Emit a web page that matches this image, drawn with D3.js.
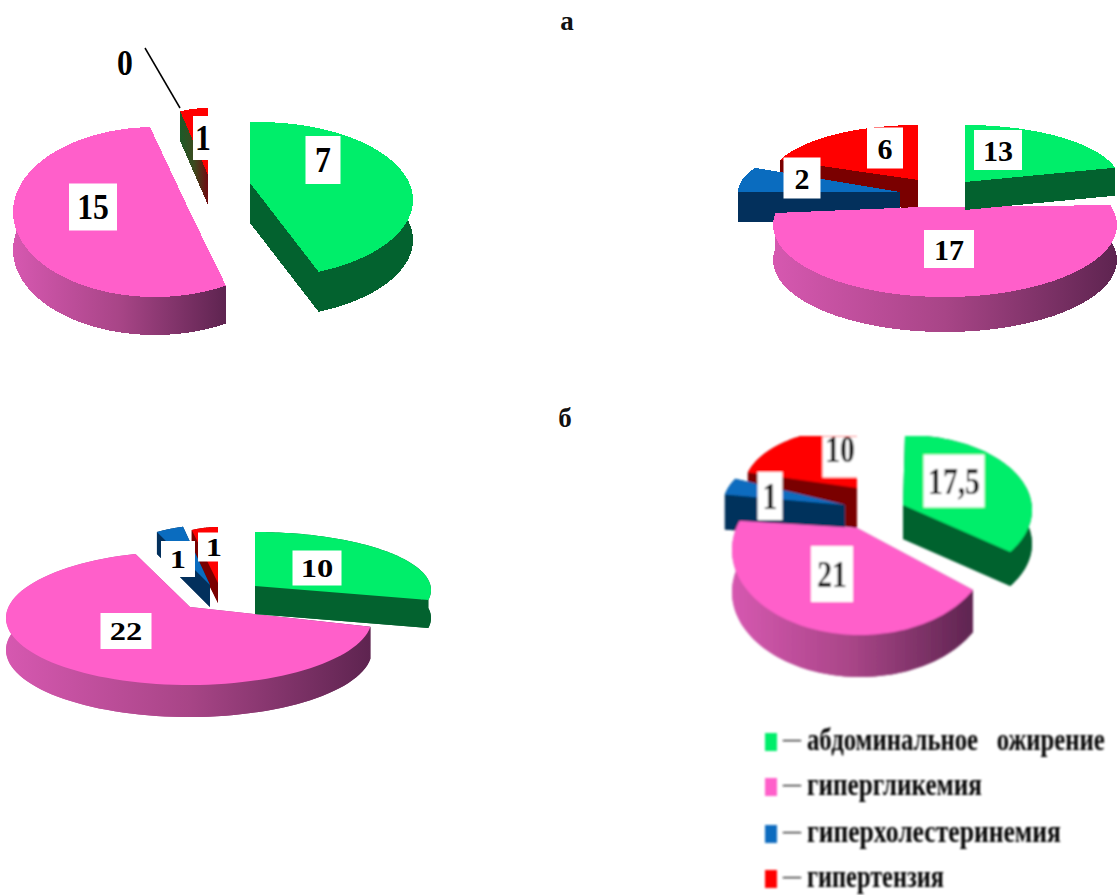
<!DOCTYPE html>
<html lang="ru">
<head>
<meta charset="utf-8">
<title>Компоненты метаболического синдрома</title>
<script src="https://cdn.jsdelivr.net/npm/d3@7/dist/d3.min.js"></script>
<style>
  html, body { margin: 0; padding: 0; background: #fff; }
  svg { display: block; }
  text { font-family: "Liberation Serif", serif; }
</style>
</head>
<body>
<svg id="chart" width="1118" height="895"></svg>
<script>
// Categories and values of the four pies
const categories = ["абдоминальное   ожирение", "гипергликемия", "гиперхолестеринемия", "гипертензия"];
const valuesA1 = [7, 15, 0, 1];
const valuesA2 = [13, 17, 2, 6];
const valuesB1 = [10, 22, 1, 1];
const valuesB2 = [17.5, 21, 1, 10];
const panelTitles = ["а", "б"];

// Surface and side colours by category
const topColors = ["#00ee6a", "#ff5fca", "#0a6cbf", "#ff0000"];
const wallColors = [
  ["#03622f", "#03622f"],
  ["#d658b0", "#a84587", "#5e2450"],
  ["#03305c", "#03305c"],
  ["#7a0000", "#7a0000"]
];

// Projection of each exploded slice: apex, ellipse of its rim, sweep in degrees, side depth.
// Sweeps are foreshortened, so each slice carries its own value-to-angle range.
const pies = [
  {
    values: valuesA1, order: [3, 1, 0], crisp: true,
    slices: {
      0: { ax: 250, ay: 183, cx: 258, cy: 200, rx: 155, ry: 78, from: -3, to: 157, depth: 40 },
      1: { ax: 190, ay: 212, cx: 155, cy: 212, rx: 142, ry: 85, from: 150, to: 358, depth: 38 },
      3: { ax: 208, ay: 175, cx: 208, cy: 175, rx: 90, ry: 67, from: -18, to: 0, depth: 30,
           wall: ["#1c5a28", "#3c4a1e", "#700a10"] }
    },
    font: 36, sx: 0.88,
    labels: {
      0: { x: 323, y: 160, w: 35, h: 48 },
      1: { x: 93, y: 207, w: 48, h: 47 },
      2: { x: 125, y: 63, w: 0, h: 0 },
      3: { x: 204, y: 138, w: 22, h: 44, tx: 203 }
    },
    leader: { from: 2, x1: 145, y1: 48, x2: 180, y2: 108 }
  },
  {
    values: valuesA2, order: [3, 2, 1, 0], crisp: true,
    slices: {
      0: { ax: 965, ay: 182, cx: 965, cy: 182, rx: 155, ry: 57, from: 0, to: 75.5, depth: 28 },
      1: { ax: 920, ay: 207, cx: 945, cy: 225, rx: 172, ry: 72, from: 74, to: 279.6, depth: 35 },
      2: { ax: 900, ay: 192, cx: 900, cy: 192, rx: 162, ry: 54, from: -90, to: -63.5, depth: 30 },
      3: { ax: 918, ay: 180, cx: 918, cy: 180, rx: 148, ry: 55, from: -68.7, to: 0, depth: 30 }
    },
    font: 30, sx: 1,
    labels: {
      0: { x: 998, y: 150, w: 48, h: 40 },
      1: { x: 949, y: 249, w: 50, h: 38 },
      2: { x: 802, y: 178, w: 37, h: 41 },
      3: { x: 885, y: 148, w: 36, h: 41 }
    }
  },
  {
    values: valuesB1, order: [3, 2, 1, 0], crisp: false,
    slices: {
      0: { ax: 255, ay: 586, cx: 255, cy: 590, rx: 176, ry: 58, from: 0, to: 100, depth: 28 },
      1: { ax: 190, ay: 607, cx: 189, cy: 618, rx: 183, ry: 67, from: 97.6, to: 343, depth: 32 },
      2: { ax: 210, ay: 585, cx: 210, cy: 585, rx: 113, ry: 60, from: -28, to: -13.8, depth: 22 },
      3: { ax: 218, ay: 583, cx: 218, cy: 583, rx: 81, ry: 56, from: -18.9, to: 0, depth: 20 }
    },
    font: 26, sx: 1.25,
    labels: {
      0: { x: 317, y: 568, w: 49, h: 35 },
      1: { x: 126, y: 631, w: 51, h: 36 },
      2: { x: 178, y: 559, w: 34, h: 36 },
      3: { x: 209, y: 547, w: 22, h: 29, tx: 214 }
    }
  },
  {
    values: valuesB2, order: [3, 2, 1, 0], crisp: false, soft: true, clipTop: 436,
    slices: {
      0: { ax: 903, ay: 505, cx: 905, cy: 510, rx: 127, ry: 75, from: 0, to: 124, depth: 34 },
      1: { ax: 857, ay: 528, cx: 860, cy: 550, rx: 128, ry: 85, from: 118, to: 290, depth: 42 },
      2: { ax: 845, ay: 505, cx: 845, cy: 505, rx: 122, ry: 60, from: -80, to: -64, depth: 35 },
      3: { ax: 857, ay: 488, cx: 857, cy: 488, rx: 113, ry: 60, from: -75, to: 0, depth: 40 }
    },
    font: 38, sx: 0.78,
    labels: {
      0: { x: 954, y: 481, w: 61, h: 53 },
      1: { x: 832, y: 574, w: 42, h: 56 },
      2: { x: 770, y: 496, w: 25, h: 48 },
      3: { x: 840, y: 457, w: 35, h: 41, ty: 449 }
    }
  }
];

const legendLayout = { swatchX: 765, swatchW: 12, swatchH: 18, dashX: 783, textX: 807,
  rows: [750, 795, 842, 887], widths: [298, 175, 254, 137] };
const titleLayout = [{ x: 567, y: 30 }, { x: 565, y: 427 }];

const svg = d3.select("#chart");
const defs = svg.append("defs");
defs.append("filter").attr("id", "soft").attr("x", "-5%").attr("y", "-5%").attr("width", "110%").attr("height", "110%")
  .append("feGaussianBlur").attr("stdDeviation", 0.8);

const ring = d3.line().curve(d3.curveLinearClosed);
const shift = (pts, d) => pts.map(([x, y]) => [x, y + d]);
const STEPS = 90;

pies.forEach((pie, pieIndex) => {
  const group = svg.append("g").attr("class", "pie");
  if (pie.soft) group.attr("filter", "url(#soft)");
  let body = group.append("g");
  if (pie.clipTop !== undefined) {
    defs.append("clipPath").attr("id", `clip${pieIndex}`).append("rect")
      .attr("x", 0).attr("y", pie.clipTop).attr("width", 1118).attr("height", 895);
    body.attr("clip-path", `url(#clip${pieIndex})`);
  }
  if (pie.crisp) body.attr("shape-rendering", "crispEdges");

  pie.order.forEach(cat => {
    const value = pie.values[cat];
    const g = pie.slices[cat];
    const toAngle = d3.scaleLinear().domain([0, value]).range([g.from, g.to]);
    const rim = d3.range(STEPS + 1).map(i => {
      const t = toAngle(value * i / STEPS) * Math.PI / 180;
      return [g.cx + g.rx * Math.sin(t), g.cy - g.ry * Math.cos(t)];
    });
    const apex = [g.ax, g.ay];
    const face = [apex, ...rim];

    // Side wall shaded horizontally across the slice
    const gradId = `wall-${pieIndex}-${cat}`;
    const [x0, x1] = d3.extent(face, p => p[0]);
    const stops = g.wall || wallColors[cat];
    const grad = defs.append("linearGradient").attr("id", gradId)
      .attr("gradientUnits", "userSpaceOnUse")
      .attr("x1", x0).attr("x2", x1).attr("y1", 0).attr("y2", 0);
    stops.forEach((c, i) => grad.append("stop")
      .attr("offset", i / (stops.length - 1)).attr("stop-color", c));

    const sideParts = [
      shift(face, g.depth),
      [...rim, ...shift(rim, g.depth).reverse()],
      [apex, rim[0], ...shift([rim[0], apex], g.depth)],
      [apex, rim[STEPS], ...shift([rim[STEPS], apex], g.depth)]
    ];
    const sg = body.append("g").attr("class", `slice cat-${cat}`);
    sg.selectAll("path.wall").data(sideParts).join("path")
      .attr("class", "wall").attr("d", ring).attr("fill", `url(#${gradId})`);
    sg.append("path").attr("class", "face").attr("d", ring(face)).attr("fill", topColors[cat]);
  });

  // Leader line of a zero-value label
  if (pie.leader) {
    group.append("line")
      .attr("x1", pie.leader.x1).attr("y1", pie.leader.y1)
      .attr("x2", pie.leader.x2).attr("y2", pie.leader.y2)
      .attr("stroke", "#000").attr("stroke-width", 1.5);
  }

  // White value plates
  const labelGroup = group.append("g");
  if (pie.clipTop !== undefined) labelGroup.attr("clip-path", `url(#clip${pieIndex})`);
  pie.values.forEach((value, cat) => {
    const l = pie.labels[cat];
    if (!l) return;
    if (l.w > 0) {
      labelGroup.append("rect")
        .attr("x", l.x - l.w / 2).attr("y", l.y - l.h / 2)
        .attr("width", l.w).attr("height", l.h).attr("fill", "#fff");
    }
    const tx = l.tx !== undefined ? l.tx : l.x;
    const ty = l.ty !== undefined ? l.ty : l.y;
    labelGroup.append("text")
      .attr("transform", `translate(${tx},${ty}) scale(${pie.sx},1)`)
      .attr("text-anchor", "middle").attr("dominant-baseline", "central")
      .attr("font-size", pie.font).attr("font-weight", "bold").attr("fill", "#000")
      .text(String(value).replace(".", ","));
  });
});

// Panel letters
svg.selectAll("text.panel").data(panelTitles).join("text")
  .attr("class", "panel")
  .attr("x", (d, i) => titleLayout[i].x).attr("y", (d, i) => titleLayout[i].y)
  .attr("text-anchor", "middle").attr("font-size", 27).attr("font-weight", "bold").attr("fill", "#111")
  .text(d => d);

// Legend: each caption is scaled horizontally to its measured width
const legend = svg.append("g").attr("class", "legend").attr("filter", "url(#soft)");
const row = legend.selectAll("g").data(categories).join("g");
row.append("rect")
  .attr("x", legendLayout.swatchX).attr("y", (d, i) => legendLayout.rows[i] - 17)
  .attr("width", legendLayout.swatchW).attr("height", legendLayout.swatchH)
  .attr("fill", (d, i) => topColors[i]);
row.append("text")
  .attr("x", legendLayout.dashX).attr("y", (d, i) => legendLayout.rows[i] - 5)
  .attr("font-size", 18).attr("font-weight", "bold").attr("fill", "#222").text("—");
row.append("text")
  .attr("font-size", 32).attr("font-weight", "bold").attr("fill", "#000")
  .style("white-space", "pre")
  .text(d => d)
  .attr("transform", function (d, i) {
    const k = legendLayout.widths[i] / this.getComputedTextLength();
    return `translate(${legendLayout.textX},${legendLayout.rows[i]}) scale(${k},1)`;
  });
</script>
</body>
</html>
